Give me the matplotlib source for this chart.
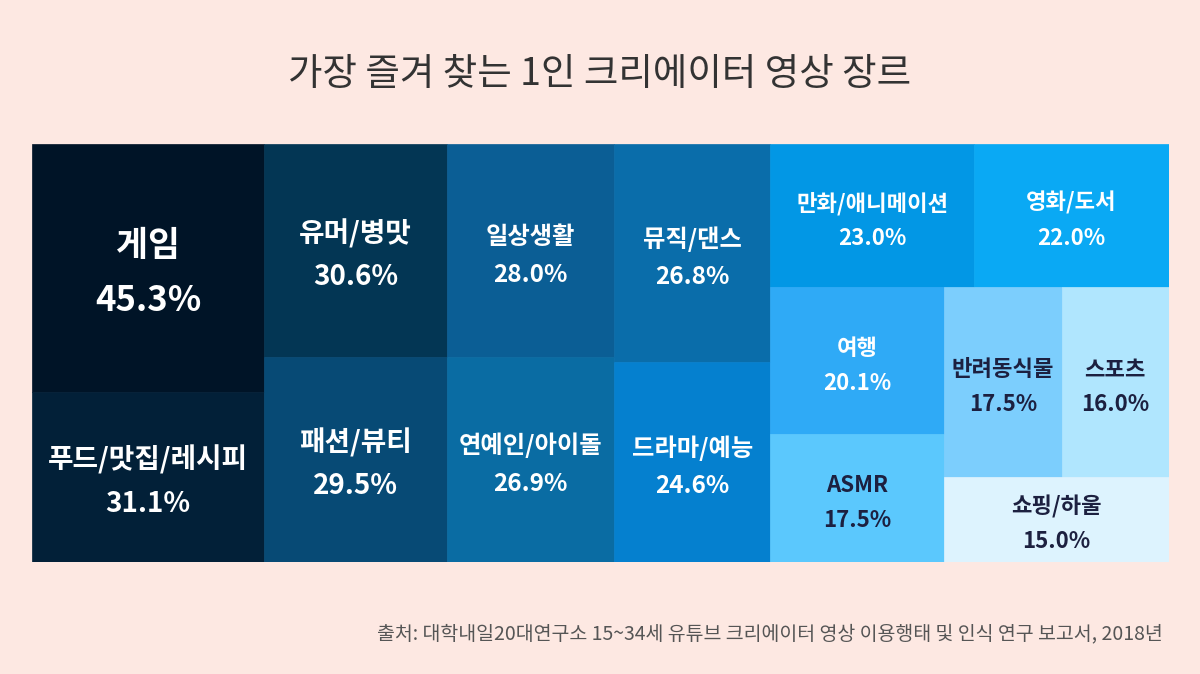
"""Treemap of favourite one-person creator video genres (2018 survey)."""

import matplotlib
matplotlib.use("Agg")
import matplotlib.pyplot as plt
from matplotlib.patches import Rectangle

plt.rcParams["font.family"] = ["Noto Sans CJK KR", "DejaVu Sans"]

genres = [
    "게임", "푸드/맛집/레시피", "유머/병맛", "패션/뷰티", "일상생활", "연예인/아이돌",
    "뮤직/댄스", "드라마/예능", "만화/애니메이션", "영화/도서", "여행", "ASMR",
    "반려동식물", "스포츠", "쇼핑/하울",
]
shares = [45.3, 31.1, 30.6, 29.5, 28.0, 26.9, 26.8, 24.6, 23.0, 22.0, 20.1, 17.5, 17.5, 16.0, 15.0]
fills = [
    "#001427", "#022038", "#033654", "#074a75", "#0b5e95", "#0a6ca3",
    "#0a6daa", "#0580cf", "#0297e5", "#0aa9f4", "#2faaf6", "#5bc8fd",
    "#7ccefd", "#b0e6fe", "#ddf3fe",
]
dark_text = {"ASMR", "반려동식물", "스포츠", "쇼핑/하울"}

# nesting of the slices: "h" = side by side, "v" = stacked, ints index the lists above
tree = ("h", [
    ("v", [0, 1]), ("v", [2, 3]), ("v", [4, 5]), ("v", [6, 7]),
    ("v", [("h", [8, 9]),
           ("h", [("v", [10, 11]),
                  ("v", [("h", [12, 13]), 14])])]),
])

title = "가장 즐겨 찾는 1인 크리에이터 영상 장르"
source = "출처: 대학내일20대연구소 15~34세 유튜브 크리에이터 영상 이용행태 및 인식 연구 보고서, 2018년"


def total(node):
    if isinstance(node, int):
        return shares[node]
    return sum(total(c) for c in node[1])


def layout(node, x, y, w, h, out):
    if isinstance(node, int):
        out[node] = (x, y, w, h)
        return
    kind, kids = node
    s = total(node)
    pos = 0.0
    for kid in kids:
        frac = total(kid) / s
        if kind == "h":
            layout(kid, x + pos * w, y, w * frac, h, out)
        else:
            layout(kid, x, y + pos * h, w, h * frac, out)
        pos += frac


def label_size(v):
    if v >= 40:
        return 25
    if v >= 29:
        return 20
    if v >= 24:
        return 17.5
    return 16


rects = {}
layout(tree, 0.0, 0.0, 1.0, 1.0, rects)

fig = plt.figure(figsize=(12, 6.74), dpi=100)
fig.patch.set_facecolor("#fde8e2")

ax_h = 418
ax = fig.add_axes([32 / 1200, 1 - 562 / 674, 1137 / 1200, ax_h / 674])
ax.set_xlim(0, 1)
ax.set_ylim(1, 0)
ax.axis("off")

for i, name in enumerate(genres):
    x, y, w, h = rects[i]
    ax.add_patch(Rectangle((x, y), w, h, facecolor=fills[i], edgecolor=fills[i], lw=0.5))
    color = "#1c2040" if name in dark_text else "white"
    size = label_size(shares[i])
    gap = size * 1.389 * 0.78 / ax_h  # half line gap in axes units
    cx, cy = x + w / 2, y + h / 2 + 5 / ax_h
    ax.text(cx, cy - gap, name, ha="center", va="center", fontsize=size,
            fontweight="bold", color=color)
    ax.text(cx, cy + gap, f"{shares[i]:.1f}%", ha="center", va="center", fontsize=size,
            fontweight="bold", color=color)

fig.text(0.5, 1 - 74 / 674, title, ha="center", va="center", fontsize=27,
         fontweight="medium", color="#333333")
fig.text(1163 / 1200, 1 - 634 / 674, source, ha="right", va="center", fontsize=14,
         color="#555555")

fig.savefig("out.png", dpi=100, facecolor=fig.get_facecolor())
plt.close(fig)
